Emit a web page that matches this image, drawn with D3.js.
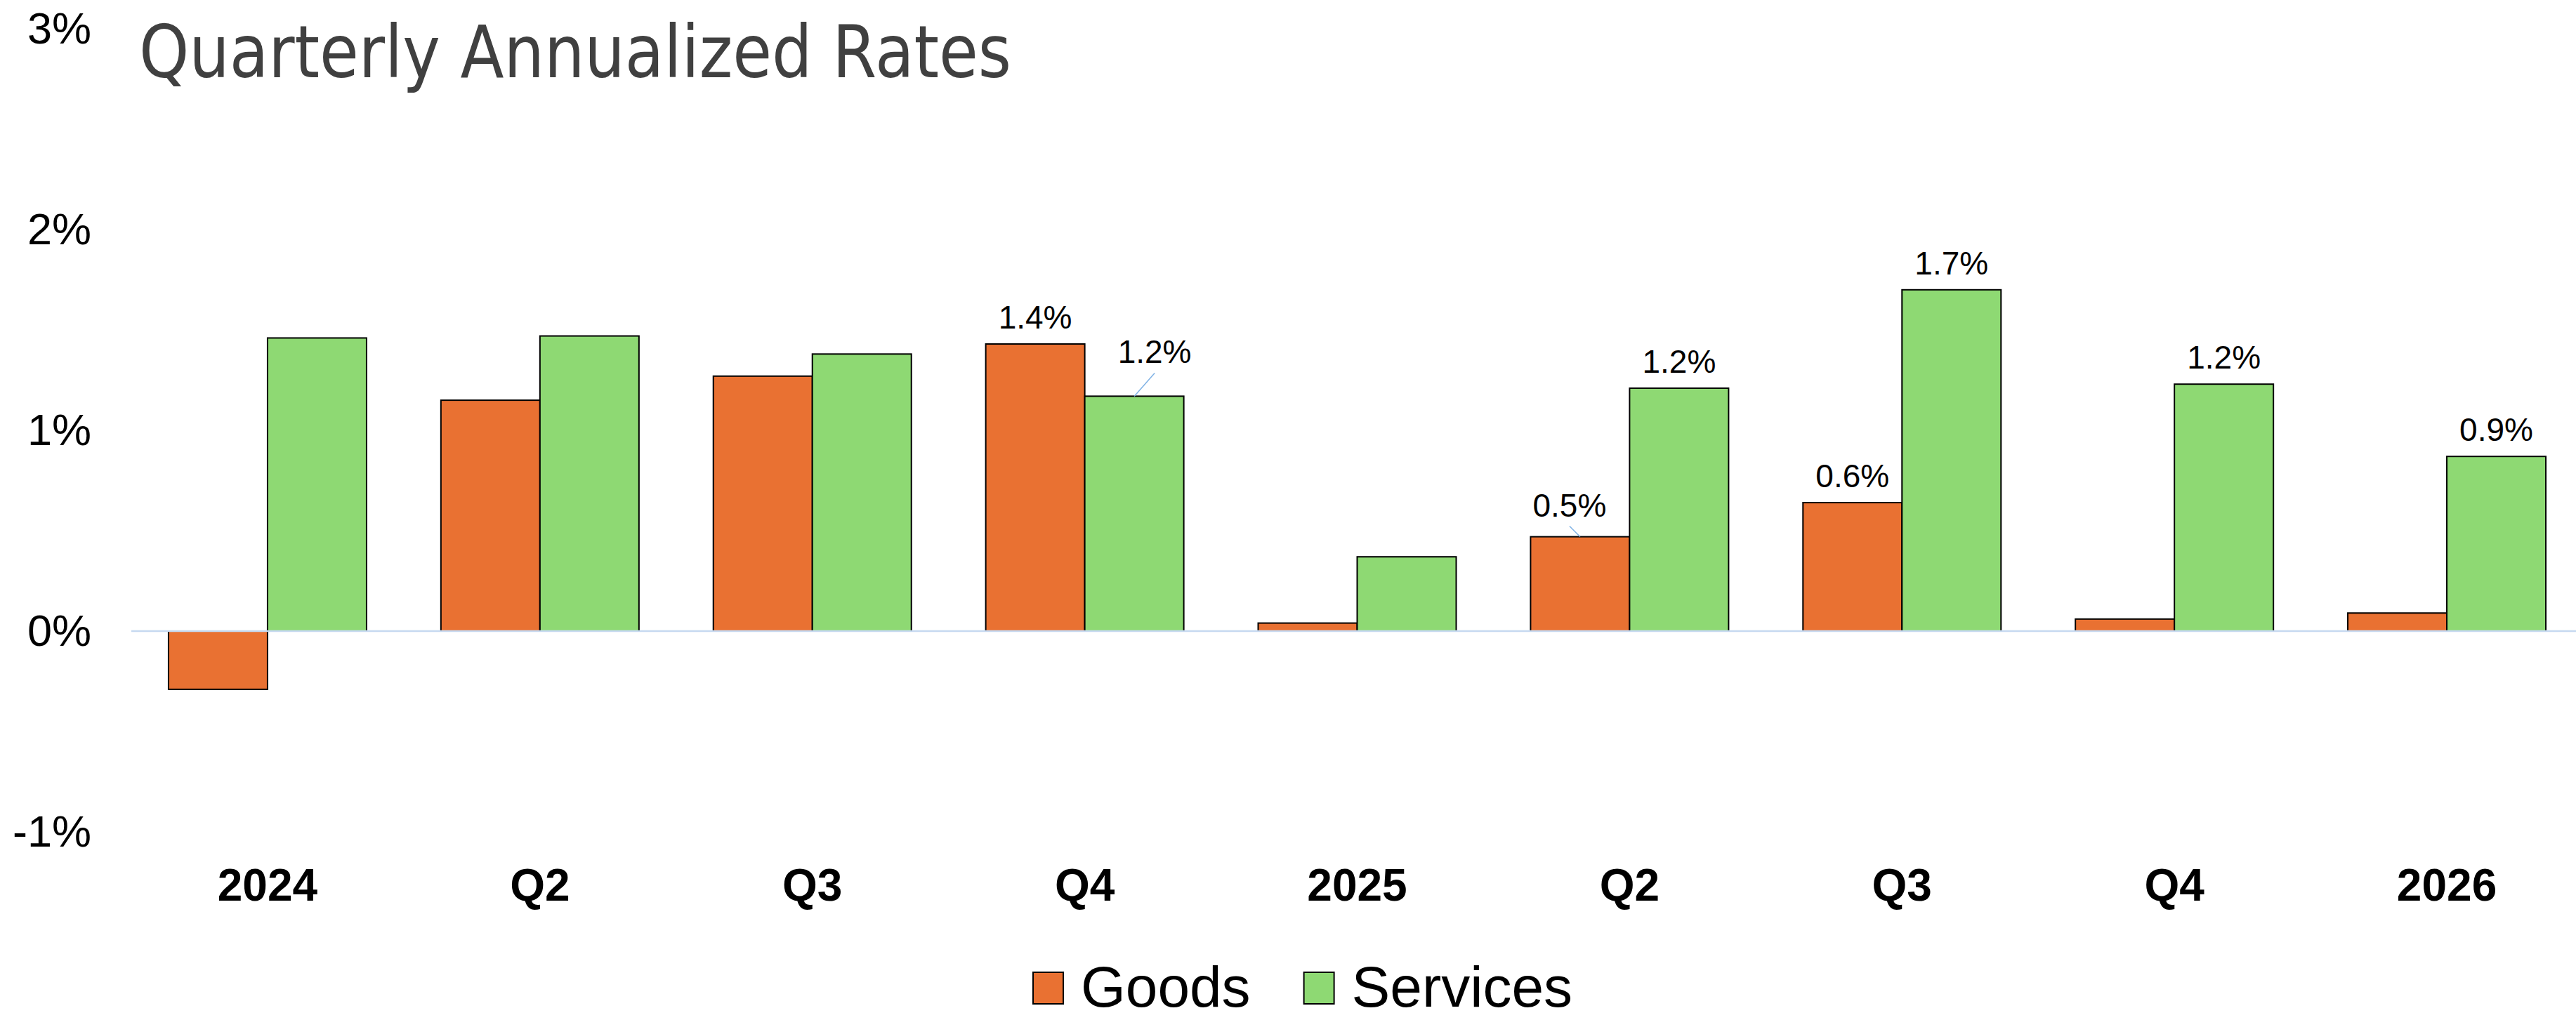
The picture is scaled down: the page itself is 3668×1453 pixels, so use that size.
<!DOCTYPE html>
<html lang="en">

<head>
    <meta charset="UTF-8">
    <script src="https://d3js.org/d3.v7.min.js"></script>
    <title>Quarterly Annualized Rates</title>
    <style>
        body {
            margin: 0;
            background: #fff;
            font-family: "Liberation Sans", Arial, sans-serif;
        }

        .axis text {
            fill: #000;
        }
    </style>
</head>

<body>
    <svg id="chart" width="3668" height="1453"></svg>

    <script>
        // data
        const categories = ["2024", "Q2", "Q3", "Q4", "2025", "Q2", "Q3", "Q4", "2026"];
        const seriesNames = ["Goods", "Services"];
        const goods = [-0.29, 1.15, 1.27, 1.43, 0.04, 0.47, 0.64, 0.06, 0.09];
        const services = [1.46, 1.47, 1.38, 1.17, 0.37, 1.21, 1.70, 1.23, 0.87];
        const goodsLabels = [null, null, null, "1.4%", null, "0.5%", "0.6%", null, null];
        const servicesLabels = [null, null, null, "1.2%", null, "1.2%", "1.7%", "1.2%", "0.9%"];
        const yTicks = [-1, 0, 1, 2, 3];

        const colors = { Goods: "#E97132", Services: "#8ED973" };

        // labels pulled off their bar, with a leader line
        const callouts = { "Services-3": [29, -47], "Goods-5": [-15, -29] };

        const svg = d3.select("#chart");

        const x = d3.scaleBand()
            .domain(d3.range(categories.length))
            .range([187, 3678])
            .paddingInner(0.273)
            .paddingOuter(0.1365);

        const xs = d3.scaleBand()
            .domain(seriesNames)
            .range([0, x.bandwidth()]);

        const y = d3.scaleLinear()
            .domain([-1, 3])
            .range([1185, 41]);

        // title
        svg.append("text")
            .attr("x", 198)
            .attr("y", 110)
            .attr("font-family", "'DejaVu Sans Condensed', 'DejaVu Sans', sans-serif")
            .attr("font-size", 104)
            .attr("fill", "#404040")
            .attr("textLength", 1242)
            .attr("lengthAdjust", "spacingAndGlyphs")
            .text("Quarterly Annualized Rates");

        // y axis
        const yAxis = svg.append("g")
            .attr("class", "axis")
            .attr("transform", "translate(130,0)")
            .call(d3.axisLeft(y).tickValues(yTicks).tickSize(0).tickPadding(0)
                .tickFormat(d => d + "%"));
        yAxis.select(".domain").remove();
        yAxis.selectAll("text")
            .attr("font-family", "'Liberation Sans', Arial, sans-serif")
            .attr("font-size", 63);

        // x axis labels
        const xAxis = svg.append("g")
            .attr("class", "axis")
            .attr("transform", "translate(0,1238)")
            .call(d3.axisBottom(x).tickSize(0).tickPadding(0).tickFormat(i => categories[i]));
        xAxis.select(".domain").remove();
        xAxis.selectAll("text")
            .attr("font-family", "'Liberation Sans', Arial, sans-serif")
            .attr("font-size", 64)
            .attr("font-weight", "bold");

        // bars
        const rows = categories.map((c, i) => ({
            i,
            vals: [
                { key: "Goods", v: goods[i], label: goodsLabels[i] },
                { key: "Services", v: services[i], label: servicesLabels[i] }
            ]
        }));

        const groups = svg.append("g")
            .selectAll("g")
            .data(rows)
            .join("g")
            .attr("transform", d => `translate(${x(d.i)},0)`);

        groups.selectAll("rect")
            .data(d => d.vals)
            .join("rect")
            .attr("x", d => xs(d.key))
            .attr("width", xs.bandwidth())
            .attr("y", d => y(Math.max(0, d.v)))
            .attr("height", d => Math.abs(y(d.v) - y(0)))
            .attr("fill", d => colors[d.key])
            .attr("stroke", "#000")
            .attr("stroke-width", 2);

        // zero line
        svg.append("line")
            .attr("x1", 187)
            .attr("x2", 3678)
            .attr("y1", y(0))
            .attr("y2", y(0))
            .attr("stroke", "#C6D9F0")
            .attr("stroke-width", 2.5);

        // data labels
        rows.forEach(r => {
            r.vals.forEach(d => {
                if (!d.label) return;
                const cx = x(r.i) + xs(d.key) + xs.bandwidth() / 2;
                const top = y(d.v);
                const off = callouts[d.key + "-" + r.i];
                let tx = cx, ty = top - 22;
                if (off) {
                    tx = cx + off[0];
                    ty = top + off[1];
                    svg.append("line")
                        .attr("x1", cx)
                        .attr("y1", top)
                        .attr("x2", cx + off[0])
                        .attr("y2", top - 15 - (Math.abs(off[1]) > 35 ? 18 : 0))
                        .attr("stroke", "#7FB2E5")
                        .attr("stroke-width", 1.5);
                }
                svg.append("text")
                    .attr("x", tx)
                    .attr("y", ty)
                    .attr("text-anchor", "middle")
                    .attr("font-size", 46)
                    .attr("fill", "#000")
                    .text(d.label);
            });
        });

        // legend
        const legend = svg.append("g");
        let lx = 1471;
        seriesNames.forEach(name => {
            legend.append("rect")
                .attr("x", lx)
                .attr("y", 1385)
                .attr("width", 43)
                .attr("height", 45)
                .attr("fill", colors[name])
                .attr("stroke", "#000")
                .attr("stroke-width", 2);
            const t = legend.append("text")
                .attr("x", lx + 68)
                .attr("y", 1434)
                .attr("font-size", 82)
                .attr("fill", "#000")
                .text(name);
            lx += 68 + t.node().getComputedTextLength() + 76;
        });
    </script>
</body>

</html>
